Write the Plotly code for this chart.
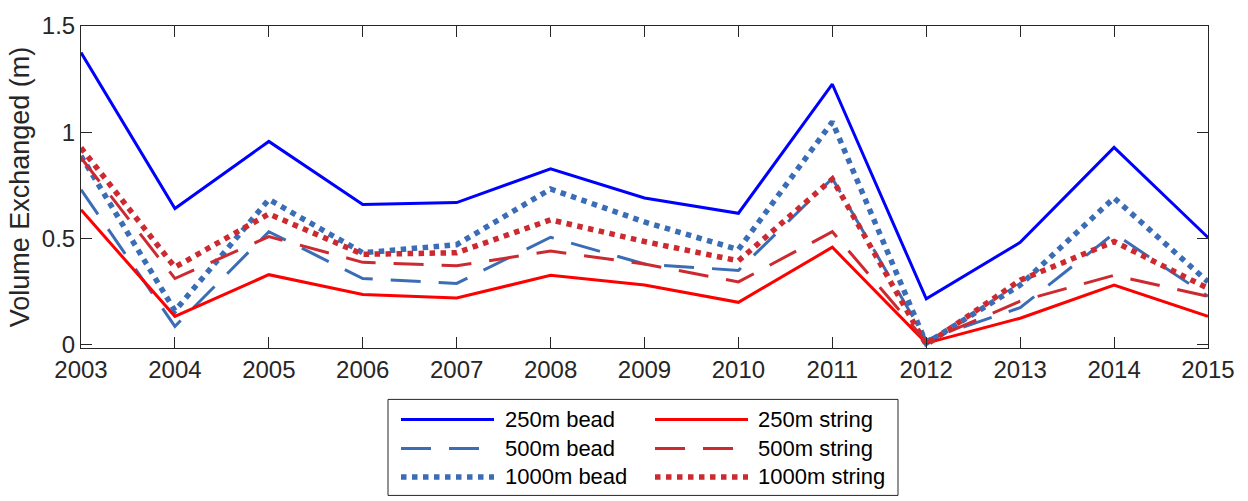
import plotly.graph_objects as go

years = list(range(2003, 2016))
bead_250 = [1.375, 0.641, 0.957, 0.660, 0.669, 0.828, 0.691, 0.619, 1.226, 0.216, 0.482, 0.929, 0.505]
bead_500 = [0.730, 0.087, 0.532, 0.312, 0.289, 0.506, 0.380, 0.350, 0.783, 0.023, 0.175, 0.524, 0.228]
bead_1000 = [0.889, 0.160, 0.684, 0.433, 0.471, 0.733, 0.578, 0.448, 1.049, 0.008, 0.281, 0.691, 0.296]
string_250 = [0.635, 0.134, 0.330, 0.237, 0.220, 0.327, 0.281, 0.200, 0.459, 0.008, 0.125, 0.281, 0.134]
string_500 = [0.880, 0.312, 0.509, 0.388, 0.372, 0.441, 0.380, 0.296, 0.532, 0.015, 0.205, 0.327, 0.228]
string_1000 = [0.927, 0.365, 0.616, 0.426, 0.433, 0.588, 0.486, 0.395, 0.780, 0.000, 0.304, 0.486, 0.266]

names = ["250m bead", "500m bead", "1000m bead", "250m string", "500m string", "1000m string"]
series = [bead_250, bead_500, bead_1000, string_250, string_500, string_1000]

BLUE = "#0000ff"
BLUE2 = "#3a6db6"
RED = "#ff0000"
RED2 = "#cc2a30"
styles = [
    dict(color=BLUE, width=3, dash="solid"),
    dict(color=BLUE2, width=3, dash="30px,18px"),
    dict(color=BLUE2, width=5.5, dash="5.5px,5.5px"),
    dict(color=RED, width=3, dash="solid"),
    dict(color=RED2, width=3, dash="30px,18px"),
    dict(color=RED2, width=5.5, dash="5.5px,5.5px"),
]

FONT = "Liberation Sans, Arial, Helvetica, sans-serif"
AX = "#262626"

fig = go.Figure()
for n, s, st in zip(names, series, styles):
    fig.add_trace(go.Scatter(x=years, y=s, mode="lines", name=n, line=st, showlegend=False))

W, H = 1248, 501
ml, mr, mt, mb = 81, 40, 16, 153
pw = W - ml - mr
ph = H - mt - mb

def px_x(x):
    return (x - ml) / pw

def px_y(y):
    return (H - mb - y) / ph

# manual legend (two columns)
fig.add_shape(type="rect", xref="paper", yref="paper",
              x0=px_x(388), x1=px_x(898), y0=px_y(401), y1=px_y(500),
              line=dict(color=AX, width=1), fillcolor="white")
rows_y = [421.7, 451.7, 481.0]
cols = [(401, 494, 503), (655, 748, 756)]
for i, (n, st) in enumerate(zip(names, styles)):
    c = cols[i // 3]
    ry = rows_y[i % 3]
    fig.add_shape(type="line", xref="paper", yref="paper",
                  x0=px_x(c[0]), x1=px_x(c[1]), y0=px_y(ry), y1=px_y(ry),
                  line=st)
    fig.add_annotation(text=n, xref="paper", yref="paper", x=px_x(c[2]), y=px_y(ry),
                       xanchor="left", yanchor="middle", showarrow=False,
                       font=dict(family=FONT, size=22, color="#000000"))

fig.update_layout(
    width=W, height=H,
    margin=dict(l=ml, r=mr, t=mt, b=mb),
    plot_bgcolor="white", paper_bgcolor="white",
    font=dict(family=FONT, color=AX),
    showlegend=False,
)
fig.update_xaxes(range=[2003, 2015], tickvals=years, ticktext=[str(y) for y in years],
                 ticks="inside", ticklen=11, tickcolor=AX, tickwidth=1,
                 showline=True, linecolor=AX, linewidth=1, mirror="ticks",
                 showgrid=False, zeroline=False, tickfont=dict(size=24, color=AX, family=FONT))
fig.update_yaxes(range=[-0.015, 1.5], tickvals=[0, 0.5, 1, 1.5], ticktext=["0", "0.5", "1", "1.5"],
                 ticks="inside", ticklen=11, tickcolor=AX, tickwidth=1,
                 showline=True, linecolor=AX, linewidth=1, mirror="ticks",
                 showgrid=False, zeroline=False, tickfont=dict(size=24, color=AX, family=FONT),
                 title=dict(text="Volume Exchanged (m)", font=dict(size=27, color=AX, family=FONT), standoff=4))

fig.write_html("out.html")
